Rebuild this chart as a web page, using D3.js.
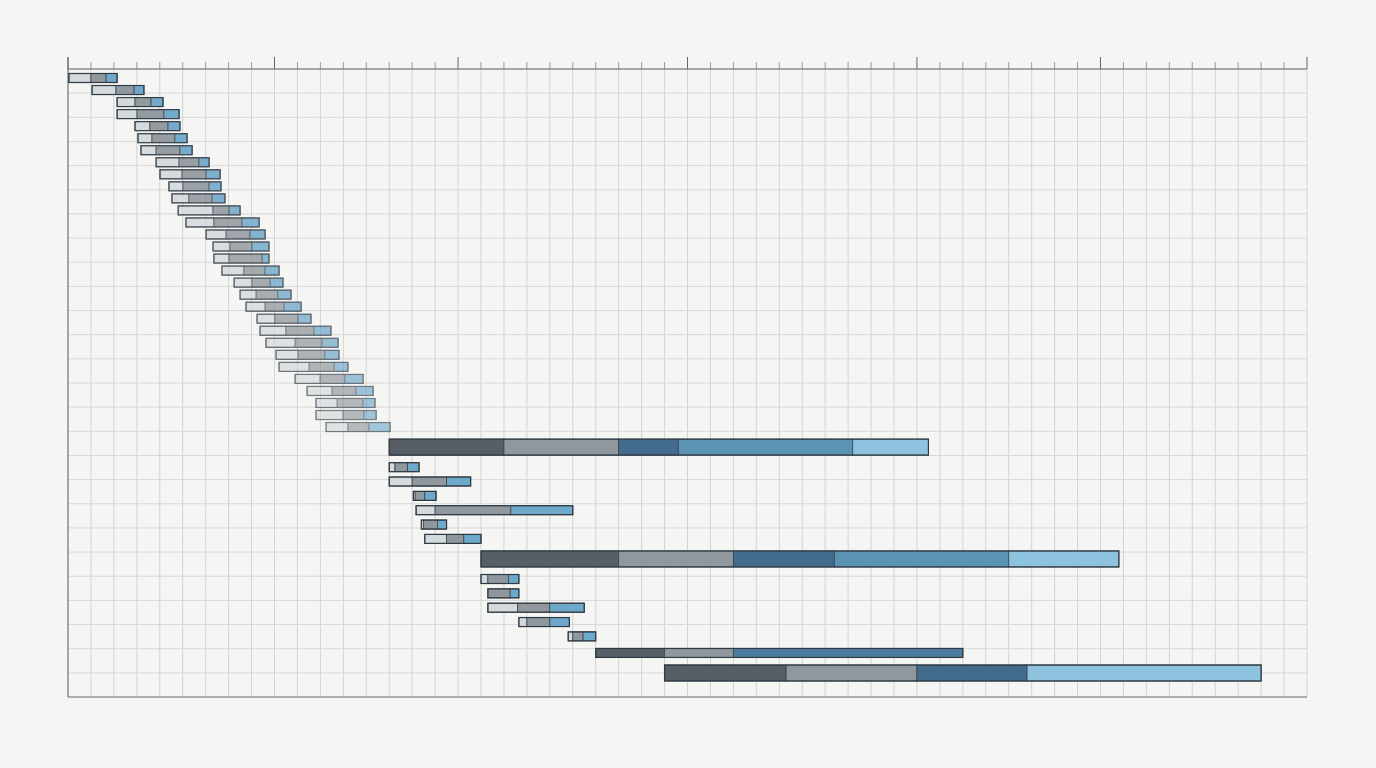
<!DOCTYPE html>
<html>
<head>
<meta charset="utf-8">
<script src="https://cdn.jsdelivr.net/npm/d3@7"></script>
<style>
  body { margin: 0; background: #f5f5f3; }
</style>
</head>
<body>
<svg id="chart" width="1376" height="768"></svg>
<script>
const width = 1376;
const height = 768;

// breakpoints of each task (weeks), small tasks: 3 phases
const tasks = [
  [0.04, 1.0, 1.66, 2.14], [1.05, 2.09, 2.88, 3.31], [2.14, 2.92, 3.62, 4.14],
  [2.14, 3.01, 4.18, 4.84], [2.92, 3.57, 4.36, 4.88], [3.05, 3.66, 4.66, 5.19],
  [3.18, 3.84, 4.88, 5.41], [3.84, 4.84, 5.71, 6.15], [4.01, 4.97, 6.02, 6.63],
  [4.4, 5.01, 6.15, 6.67], [4.53, 5.27, 6.28, 6.84], [4.8, 6.32, 7.02, 7.5],
  [5.14, 6.36, 7.58, 8.33], [6.02, 6.89, 7.93, 8.59], [6.32, 7.06, 8.02, 8.76],
  [6.36, 7.02, 8.46, 8.76], [6.71, 7.67, 8.59, 9.2], [7.24, 8.02, 8.81, 9.37],
  [7.5, 8.2, 9.15, 9.72], [7.76, 8.59, 9.42, 10.16], [8.24, 9.02, 10.03, 10.59],
  [8.37, 9.5, 10.72, 11.46], [8.63, 9.9, 11.07, 11.77], [9.07, 10.03, 11.2, 11.81],
  [9.2, 10.51, 11.6, 12.2], [9.9, 10.99, 12.07, 12.86], [10.42, 11.51, 12.55, 13.3],
  [10.81, 11.73, 12.86, 13.38], [10.81, 11.99, 12.9, 13.43], [11.25, 12.2, 13.12, 14.04],
  [14, 19, 24, 26.6, 34.2, 37.5],
  [14.0, 14.25, 14.8, 15.3], [14.0, 15.0, 16.5, 17.55], [15.05, 15.13, 15.55, 16.04],
  [15.17, 16.0, 19.3, 22.0], [15.4, 15.5, 16.1, 16.5], [15.55, 16.5, 17.25, 18.0],
  [18, 24, 29, 33.4, 41, 45.8],
  [18.0, 18.3, 19.2, 19.65], [18.3, 18.3, 19.27, 19.65], [18.3, 19.6, 21.0, 22.5],
  [19.65, 20.0, 21.0, 21.85], [21.8, 22.0, 22.45, 23.0],
  [23, 26, 29, 39],
  [26, 31.3, 37, 41.8, 52]
];
// phase kinds per task: s = small, m = medium, b = big
const sizes = tasks.map((t, i) => t.length > 4 ? "b" : (i === 43 ? "m" : "s"));
const phaseKinds = {
  s: ["light", "gray", "blue"],
  m: ["dark", "gray", "mdblue"],
  b5: ["dark", "gray", "dblue", "mblue", "lblue"],
  b4: ["dark", "gray", "dblue", "lblue"]
};
const colors = {
  light: "#d4d9dc", gray: "#90979d", blue: "#6ea8ca",
  dark: "#575e66", dblue: "#426b8d", mblue: "#5b93b5", lblue: "#8dc3df", mdblue: "#4c7ca0"
};
const majorTicks = [0, 9, 17, 27, 37, 45, 54];
const weeks = d3.range(0, 55);
const rowLines = d3.range(0, 27);

const svg = d3.select("#chart");
const x = d3.scaleLinear().domain([0, 54]).range([68, 1307]);
const yGrid = d3.scaleLinear().domain([0, 26]).range([69, 697]);

// stack rows with variable heights
const hOf = s => s === "b" ? 16 : 9;
let raw = [0];
for (let i = 1; i < tasks.length; i++) {
  let gap = 7.5;
  if (sizes[i] === "s" && sizes[i - 1] === "s") gap = i < 31 ? 3 : 5.3;
  raw.push(raw[i - 1] + hOf(sizes[i - 1]) / 2 + hOf(sizes[i]) / 2 + gap);
}
const y = d3.scaleLinear().domain([0, raw[raw.length - 1]]).range([78, 673]);

// grid
svg.append("g").selectAll("line").data(weeks).join("line")
  .attr("x1", d => x(d)).attr("x2", d => x(d))
  .attr("y1", 69).attr("y2", 697)
  .attr("stroke", "#d3d3d3").attr("stroke-width", 1);
svg.append("g").selectAll("line").data(rowLines).join("line")
  .attr("x1", 68).attr("x2", 1307)
  .attr("y1", d => yGrid(d)).attr("y2", d => yGrid(d))
  .attr("stroke", "#d8d8d8").attr("stroke-width", 1);

// top axis
svg.append("g").selectAll("line").data(weeks).join("line")
  .attr("x1", d => x(d)).attr("x2", d => x(d))
  .attr("y1", d => majorTicks.includes(d) ? 57 : 62).attr("y2", 69)
  .attr("stroke", d => majorTicks.includes(d) ? "#666" : "#999");
svg.append("line").attr("x1", 68).attr("x2", 1307).attr("y1", 69).attr("y2", 69).attr("stroke", "#666");
svg.append("line").attr("x1", 68).attr("x2", 1307).attr("y1", 697).attr("y2", 697).attr("stroke", "#777");
svg.append("line").attr("x1", 68).attr("x2", 68).attr("y1", 57).attr("y2", 697).attr("stroke", "#666");

// bars
const fade = d3.scaleLinear().domain([0, 29]).range([1, 0.62]).clamp(true);
tasks.forEach((t, i) => {
  const s = sizes[i];
  const h = hOf(s);
  const kinds = s === "s" ? phaseKinds.s : s === "m" ? phaseKinds.m : (t.length === 6 ? phaseKinds.b5 : phaseKinds.b4);
  const g = svg.append("g").attr("opacity", i < 30 ? fade(i) : 1);
  const segs = d3.range(t.length - 1).map(k => ({ a: t[k], b: t[k + 1], kind: kinds[k] }));
  g.selectAll("rect").data(segs).join("rect")
    .attr("x", d => x(d.a)).attr("width", d => Math.max(0, x(d.b) - x(d.a)))
    .attr("y", y(raw[i]) - h / 2).attr("height", h)
    .attr("fill", d => colors[d.kind])
    .attr("stroke", "#3a4550").attr("stroke-width", 0.8);
  g.append("rect")
    .attr("x", x(t[0])).attr("width", x(t[t.length - 1]) - x(t[0]))
    .attr("y", y(raw[i]) - h / 2).attr("height", h)
    .attr("fill", "none").attr("stroke", "#2f3a44").attr("stroke-width", 1.2);
});
</script>
</body>
</html>
